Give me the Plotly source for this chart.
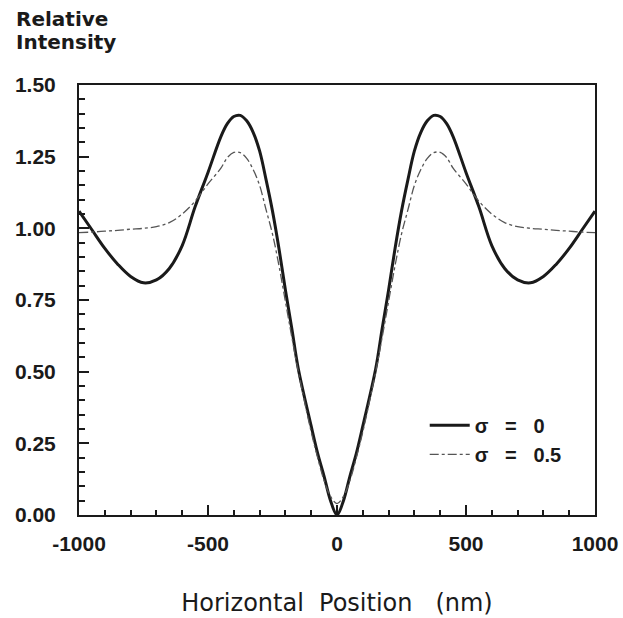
import plotly.graph_objects as go

# Horizontal position (nm)
x_nm = [-1000, -950, -900, -850, -800, -750, -700, -650, -600, -550, -500,
        -450, -425, -400, -375, -350, -325, -300, -275, -250, -225, -200, -175, -150,
        -100, -75, -50, -25, 0,
        25, 50, 75, 100,
        150, 175, 200, 225, 250, 275, 300, 325, 350, 375, 400, 425, 450,
        500, 550, 600, 650, 700, 750, 800, 850, 900, 950, 1000]

# Relative intensity, sigma = 0
sigma0 = [1.06, 0.995, 0.93, 0.875, 0.832, 0.81, 0.82, 0.86, 0.94, 1.075, 1.195,
          1.32, 1.365, 1.39, 1.394, 1.375, 1.335, 1.27, 1.17, 1.06, 0.93, 0.785, 0.65, 0.51,
          0.31, 0.215, 0.135, 0.05, 0.0,
          0.05, 0.135, 0.215, 0.31,
          0.51, 0.65, 0.785, 0.93, 1.06, 1.17, 1.27, 1.335, 1.375, 1.394, 1.39, 1.365, 1.32,
          1.195, 1.075, 0.94, 0.86, 0.82, 0.81, 0.832, 0.875, 0.93, 0.995, 1.06]

# Relative intensity, sigma = 0.5
sigma05 = [0.985, 0.987, 0.99, 0.993, 0.997, 1.0, 1.006, 1.02, 1.05, 1.095, 1.155,
           1.21, 1.247, 1.265, 1.264, 1.244, 1.205, 1.15, 1.065, 0.98, 0.87, 0.745, 0.62, 0.50,
           0.29, 0.20, 0.12, 0.065, 0.04,
           0.065, 0.12, 0.20, 0.29,
           0.50, 0.62, 0.745, 0.87, 0.98, 1.065, 1.15, 1.205, 1.244, 1.264, 1.265, 1.247, 1.21,
           1.155, 1.095, 1.05, 1.02, 1.006, 1.0, 0.997, 0.993, 0.99, 0.987, 0.985]

x_ticks = [-1000, -500, 0, 500, 1000]
x_tick_labels = ["-1000", "-500", "0", "500", "1000"]
y_ticks = [0.0, 0.25, 0.5, 0.75, 1.0, 1.25, 1.5]
y_tick_labels = ["0.00", "0.25", "0.50", "0.75", "1.00", "1.25", "1.50"]

sp = "\u00a0"
fig = go.Figure()
fig.add_trace(go.Scatter(
    x=x_nm, y=sigma0, mode="lines", name="σ" + sp * 3 + "=" + sp * 3 + "0",
    line=dict(color="#1a1a1a", width=3, shape="spline", smoothing=1.0)))
fig.add_trace(go.Scatter(
    x=x_nm, y=sigma05, mode="lines", name="σ" + sp * 3 + "=" + sp * 3 + "0.5",
    line=dict(color="#555555", width=1.3, dash="dashdot", shape="spline", smoothing=1.0)))

tick_font = dict(family="Liberation Sans", size=21, color="#1a1a1a", weight="bold")

fig.update_layout(
    width=623, height=618,
    margin=dict(l=79, r=28, t=85, b=103),
    paper_bgcolor="white", plot_bgcolor="white",
    showlegend=True,
    legend=dict(x=0.67, y=0.254, xanchor="left", yanchor="top",
                bgcolor="rgba(0,0,0,0)", borderwidth=0,
                font=dict(family="Liberation Sans", size=20, color="#1a1a1a", weight="bold"),
                itemwidth=40, tracegroupgap=0),
    xaxis=dict(
        range=[-1000, 1000], tickmode="array", tickvals=x_ticks, ticktext=x_tick_labels,
        ticks="inside", ticklen=10, tickwidth=1.5, tickcolor="#1a1a1a",
        minor=dict(dtick=100, ticks="inside", ticklen=5, tickwidth=1.5, tickcolor="#1a1a1a"),
        showline=True, linecolor="#1a1a1a", linewidth=2, mirror=True,
        showgrid=False, zeroline=False, tickfont=tick_font, ticklabelstandoff=9,
        automargin=False,
        title=dict(text="Horizontal" + sp * 2 + "Position" + sp * 3 + "(nm)",
                   font=dict(family="DejaVu Sans", size=24, color="#1a1a1a"), standoff=40),
    ),
    yaxis=dict(
        range=[0, 1.5], tickmode="array", tickvals=y_ticks, ticktext=y_tick_labels,
        ticks="inside", ticklen=10, tickwidth=1.5, tickcolor="#1a1a1a",
        minor=dict(dtick=0.05, ticks="inside", ticklen=6, tickwidth=1.5, tickcolor="#1a1a1a"),
        showline=True, linecolor="#1a1a1a", linewidth=2, mirror=True,
        showgrid=False, zeroline=False, tickfont=tick_font, ticklabelstandoff=17,
        automargin=False,
    ),
    annotations=[
        dict(text="Relative", xref="paper", yref="paper",
             x=-0.126, y=1.185, xanchor="left", yanchor="top", align="left", showarrow=False,
             font=dict(family="DejaVu Sans", size=20, color="#1a1a1a", weight="bold")),
        dict(text="Intensity", xref="paper", yref="paper",
             x=-0.126, y=1.133, xanchor="left", yanchor="top", align="left", showarrow=False,
             font=dict(family="DejaVu Sans", size=20, color="#1a1a1a", weight="bold")),
    ],
)

# remove the browser's default 8px page margin so the 623x618 figure fills the window
fig.write_html("out.html",
               config={"displayModeBar": False},
               post_script="document.body.style.margin='0';document.body.style.overflow='hidden';")
